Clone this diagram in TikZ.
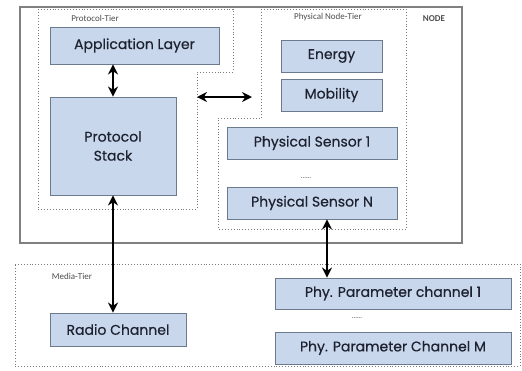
\documentclass[tikz,border=0pt]{standalone}
\usepackage{fontspec}
\setmainfont{Poppins}
\newfontfamily\boxfont[FakeBold=0.5]{Poppins}
\newfontfamily\labelfont{Carlito}
\usetikzlibrary{arrows.meta}
\definecolor{boxfill}{HTML}{C8D7EC}
\definecolor{boxline}{HTML}{6C7A8E}
\definecolor{tierline}{HTML}{7A7A7A}
\definecolor{ink}{HTML}{1E2230}
\tikzset{
  layerbox/.style={draw=boxline, line width=0.9pt, fill=boxfill, text=ink,
    font=\boxfont\fontsize{14}{16}\selectfont, inner sep=0pt, align=center},
  tier/.style={draw=tierline, line width=0.9pt, dotted},
  tierlabel/.style={font=\labelfont\fontsize{9}{10}\selectfont, text=black!70, inner sep=0pt},
  link/.style={line width=2.2pt, {Stealth[length=10pt,width=10pt]}-{Stealth[length=10pt,width=10pt]}}
}
\begin{document}
\begin{tikzpicture}[x=1pt, y=-1pt]
\useasboundingbox (0,0) rectangle (522,370);

% enclosing node frame
\draw[draw=black!50, line width=1.1pt] (20,7) rectangle (462,243);
\node[tierlabel, font=\labelfont\bfseries\fontsize{9}{10}\selectfont] (nodelbl) at (434,19) {NODE};

% protocol tier outline
\draw[tier] (38,9) -- (233,9) -- (233,72) -- (197,72) -- (197,209) -- (38,209) -- cycle;
\node[tierlabel] (protolbl) at (95,18) {Protocol-Tier};

% physical node tier outline
\draw[tier] (261,9) -- (406,9) -- (406,229) -- (218,229) -- (218,118) -- (261,118) -- cycle;
\node[tierlabel] (physlbl) at (328,17) {Physical Node-Tier};

% media tier outline
\draw[tier] (15,264) -- (520,264) -- (520,366) -- (15,366) -- cycle;
\node[tierlabel] (medialbl) at (72,276) {Media-Tier};

% layer boxes
\node[layerbox, minimum width=169pt, minimum height=37pt] (app) at (134.5,45.5) {Application Layer};
\node[layerbox, minimum width=126pt, minimum height=98pt] (stack) at (113,146) {Protocol\\[3pt]Stack};
\node[layerbox, minimum width=101pt, minimum height=32pt] (energy) at (331.5,56) {Energy};
\node[layerbox, minimum width=101pt, minimum height=32pt] (mobility) at (331.5,95) {Mobility};
\node[layerbox, minimum width=170pt, minimum height=32pt] (sens1) at (312,143) {Physical Sensor 1};
\node[font=\fontsize{8}{8}\selectfont, text=black!60] (sdots) at (306,178) {......};
\node[layerbox, minimum width=170pt, minimum height=32pt] (sensN) at (312,203) {Physical Sensor N};
\node[layerbox, minimum width=136pt, minimum height=33pt] (radio) at (118,329.5) {Radio Channel};
\node[layerbox, minimum width=236pt, minimum height=31pt] (par1) at (393,293.5) {Phy. Parameter channel 1};
\node[font=\fontsize{8}{8}\selectfont, text=black!60] (pdots) at (357,318) {......};
\node[layerbox, minimum width=236pt, minimum height=32pt] (parM) at (393,348) {Phy. Parameter Channel M};

% connectors
\draw[link] (app.south -| stack.north) -- (stack.north);
\draw[link] (stack.south) -- (stack.south |- radio.north);
\coordinate (hleft) at (197,97);
\coordinate (hright) at (252,97);
\draw[link] (hleft) -- (hright);
\draw[link] ([xshift=15pt]sensN.south) -- ([xshift=15pt]sensN.south |- par1.north);
\end{tikzpicture}
\end{document}
